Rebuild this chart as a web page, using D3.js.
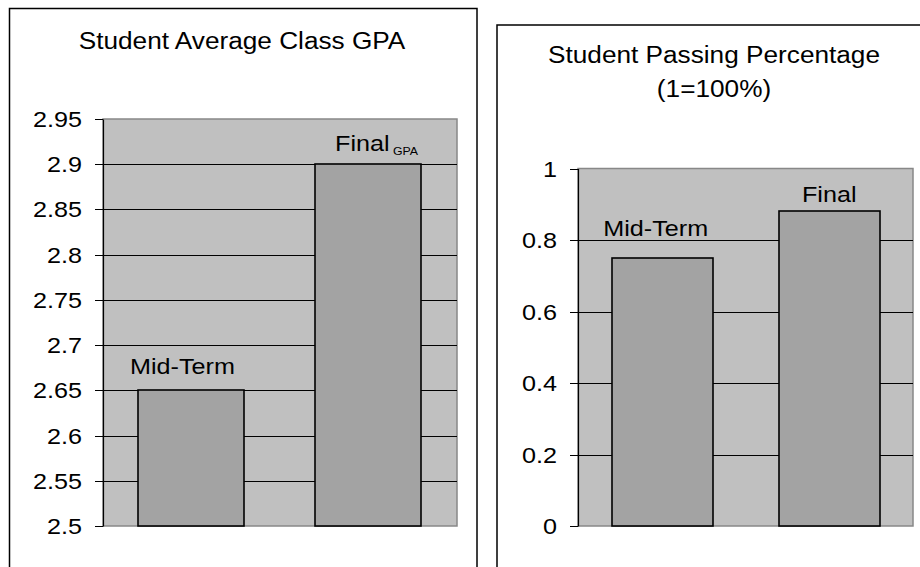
<!DOCTYPE html>
<html>
<head>
<meta charset="utf-8">
<script src="https://cdn.jsdelivr.net/npm/d3@7"></script>
<style>
    html, body { margin: 0; padding: 0; background: #fff; }
    svg { display: block; font-family: "Liberation Sans", Arial, sans-serif; }
</style>
</head>
<body>
<script>
const CATEGORIES = ["Mid-Term", "Final"];
const GPA_VALUES = [2.65, 2.9];
const GPA_TICKS = [2.5, 2.55, 2.6, 2.65, 2.7, 2.75, 2.8, 2.85, 2.9, 2.95];
const PASS_VALUES = [0.75, 0.88];
const PASS_TICKS = [0, 0.2, 0.4, 0.6, 0.8, 1];
const GPA_TITLE = ["Student Average Class GPA"];
const PASS_TITLE = ["Student Passing Percentage", "(1=100%)"];
const GPA_LABELS = [{text: "Mid-Term", sub: ""}, {text: "Final", sub: "GPA"}];
const PASS_LABELS = [{text: "Mid-Term", sub: ""}, {text: "Final", sub: ""}];

// text in the picture is a bit wider than the font, stretch it
const STRETCH = 1.12;
const FONT = 22.5;
const TITLE_FONT = 23.4;

const svg = d3.select("body").append("svg")
    .attr("width", 920)
    .attr("height", 567);

const crisp = v => Math.round(v) + 0.5;

const addText = (parent, x, y, str, size = FONT, anchor = "middle") => {
    return parent.append("text")
        .attr("transform", `translate(${x},${y}) scale(${STRETCH},1)`)
        .attr("text-anchor", anchor)
        .attr("font-size", size)
        .attr("fill", "#000")
        .text(str);
};

const drawChart = (cfg) => {
    const g = svg.append("g");

    g.append("rect")
        .attr("x", cfg.box.x).attr("y", cfg.box.y)
        .attr("width", cfg.box.w).attr("height", cfg.box.h)
        .attr("fill", "#fff").attr("stroke", "#000").attr("stroke-width", 1.5);

    cfg.title.forEach((line, i) => addText(g, cfg.titleX, cfg.titleY[i], line, TITLE_FONT));

    const y = d3.scaleLinear().domain(cfg.domain).range([cfg.plot.bottom, cfg.plot.top]);
    const x = d3.scaleBand().domain(CATEGORIES)
        .range([cfg.plot.left, cfg.plot.right])
        .paddingInner(0.4).paddingOuter(0.2);

    g.append("rect")
        .attr("x", cfg.plot.left).attr("y", cfg.plot.top)
        .attr("width", cfg.plot.right - cfg.plot.left)
        .attr("height", cfg.plot.bottom - cfg.plot.top)
        .attr("fill", "#c0c0c0").attr("stroke", "#888").attr("stroke-width", 1.5);

    g.append("g").selectAll("line")
        .data(cfg.ticks.slice(1, -1))
        .enter().append("line")
        .attr("x1", cfg.plot.left).attr("x2", cfg.plot.right)
        .attr("y1", d => crisp(y(d))).attr("y2", d => crisp(y(d)))
        .attr("stroke", "#000").attr("stroke-width", 1);

    g.append("g").selectAll("rect")
        .data(cfg.values)
        .enter().append("rect")
        .attr("x", (d, i) => Math.round(x(CATEGORIES[i])))
        .attr("y", d => Math.round(y(d)))
        .attr("width", Math.round(x.bandwidth()))
        .attr("height", d => Math.round(y(cfg.domain[0])) - Math.round(y(d)))
        .attr("fill", "#a3a3a3").attr("stroke", "#000").attr("stroke-width", 1.6);

    const axis = d3.axisLeft(y)
        .tickValues(cfg.ticks)
        .tickSizeInner(8).tickSizeOuter(0)
        .tickFormat(d => String(d));
    const ax = g.append("g")
        .attr("transform", `translate(${cfg.plot.left},0)`)
        .call(axis);
    ax.select(".domain").attr("stroke", "#000").attr("stroke-width", 1.2);
    ax.selectAll(".tick").attr("transform", d => `translate(0,${crisp(y(d))})`);
    ax.selectAll(".tick line").attr("stroke", "#000");
    ax.selectAll(".tick text")
        .attr("x", 0)
        .attr("transform", `translate(-21,0) scale(${STRETCH},1)`)
        .attr("font-size", FONT)
        .attr("font-family", "Liberation Sans, Arial, sans-serif")
        .attr("fill", "#000");

    cfg.labels.forEach((lab, i) => {
        const cx = x(CATEGORIES[i]) + x.bandwidth() / 2 + cfg.labelOffset[i][0];
        const cy = y(cfg.values[i]) + cfg.labelOffset[i][1];
        const t = addText(g, cx, cy, lab.text);
        if (lab.sub) {
            t.append("tspan")
                .attr("font-size", 11)
                .attr("dx", 3)
                .attr("dy", 4)
                .text(lab.sub);
        }
    });
};

drawChart({
    box: {x: 9.5, y: 8.5, w: 467.5, h: 600},
    plot: {left: 103, right: 457, top: 119, bottom: 526},
    domain: [2.5, 2.95],
    ticks: GPA_TICKS,
    values: GPA_VALUES,
    title: GPA_TITLE,
    titleX: 242, titleY: [49],
    labels: GPA_LABELS,
    labelOffset: [[-9, -16], [8, -13]]
});

drawChart({
    box: {x: 497, y: 25, w: 440, h: 600},
    plot: {left: 578, right: 913, top: 168.5, bottom: 526},
    domain: [0, 1],
    ticks: PASS_TICKS,
    values: PASS_VALUES,
    title: PASS_TITLE,
    titleX: 714, titleY: [63, 97],
    labels: PASS_LABELS,
    labelOffset: [[-6, -22], [0, -9]]
});
</script>
</body>
</html>
